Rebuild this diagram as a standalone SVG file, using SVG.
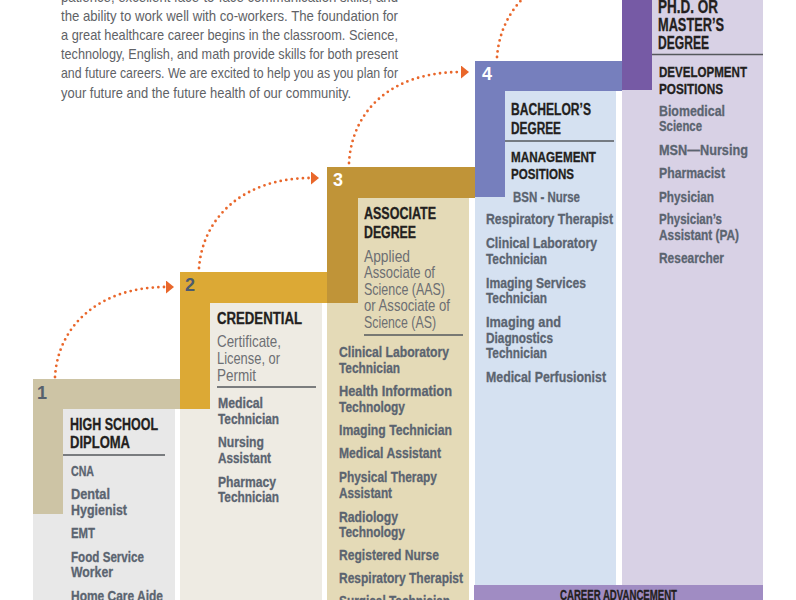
<svg xmlns="http://www.w3.org/2000/svg" width="796" height="600" viewBox="0 0 796 600">
<defs>
<style>
text{font-family:"Liberation Sans Narrow","Liberation Sans",Arial,sans-serif}
.p{font-size:15px;fill:#606266}
.h{font-size:16px;font-weight:bold;fill:#231f20;stroke:#231f20;stroke-width:0.3}
.hb{font-size:18px;font-weight:bold;fill:#231f20;stroke:#231f20;stroke-width:0.3}
.m{font-size:15px;font-weight:bold;fill:#231f20;stroke:#231f20;stroke-width:0.3}
.s{font-size:17px;fill:#6d6f73}
.i{font-size:15px;font-weight:bold;fill:#5b6470;stroke:#5b6470;stroke-width:0.3}
.n{font-family:"Liberation Sans",Arial,sans-serif;font-size:18px;font-weight:bold}
.rule{stroke:#55585c;stroke-width:1.5}
.arr{fill:none;stroke:#e9672b;stroke-width:2.8;stroke-linecap:round;stroke-dasharray:0 5.6}
.ca{font-size:14px;font-weight:bold;fill:#231f20;stroke:#231f20;stroke-width:0.3}
</style>
<marker id="ah" markerWidth="9" markerHeight="13" refX="0" refY="6.5" orient="auto" markerUnits="userSpaceOnUse">
<path d="M0,0 L8,6.5 L0,13 z" fill="#e9672b"/>
</marker>
</defs>
<rect width="796" height="600" fill="#ffffff"/>

<g id="intro" class="p">
<text x="61" y="1.6" textLength="337" lengthAdjust="spacingAndGlyphs">patience, excellent face-to-face communication skills, and</text>
<text x="61" y="20.8" textLength="337" lengthAdjust="spacingAndGlyphs">the ability to work well with co-workers. The foundation for</text>
<text x="61" y="40" textLength="337" lengthAdjust="spacingAndGlyphs">a great healthcare career begins in the classroom. Science,</text>
<text x="61" y="59.2" textLength="337" lengthAdjust="spacingAndGlyphs">technology, English, and math provide skills for both present</text>
<text x="61" y="78.4" textLength="337" lengthAdjust="spacingAndGlyphs">and future careers. We are excited to help you as you plan for</text>
<text x="61" y="97.6" textLength="290" lengthAdjust="spacingAndGlyphs">your future and the future health of our community.</text>
</g>

<g id="step1">
<rect x="33" y="379" width="142" height="221" fill="#e8e8e8"/>
<path d="M33,379 H180 V409 H63 V514 H33 Z" fill="#cdc4a5"/>
<text class="n" x="37" y="399" fill="#56606c">1</text>
<text class="h" x="70" y="430" textLength="88" lengthAdjust="spacingAndGlyphs">HIGH SCHOOL</text>
<text class="h" x="70" y="448" textLength="60" lengthAdjust="spacingAndGlyphs">DIPLOMA</text>
<line class="rule" x1="63" y1="455" x2="165" y2="455"/>
<text class="i" x="71" y="476" textLength="23" lengthAdjust="spacingAndGlyphs">CNA</text>
<text class="i" x="71" y="499" textLength="39" lengthAdjust="spacingAndGlyphs">Dental</text>
<text class="i" x="71" y="515" textLength="56" lengthAdjust="spacingAndGlyphs">Hygienist</text>
<text class="i" x="71" y="538.3" textLength="24" lengthAdjust="spacingAndGlyphs">EMT</text>
<text class="i" x="71" y="561.7" textLength="73" lengthAdjust="spacingAndGlyphs">Food Service</text>
<text class="i" x="71" y="577.3" textLength="42" lengthAdjust="spacingAndGlyphs">Worker</text>
<text class="i" x="71" y="600.5" textLength="92" lengthAdjust="spacingAndGlyphs">Home Care Aide</text>
</g>

<g id="step2">
<rect x="180" y="272" width="142" height="328" fill="#eeebe3"/>
<path d="M180,272 H327 V303 H210 V409 H180 Z" fill="#dca935"/>
<text class="n" x="185" y="291" fill="#4d5a6e">2</text>
<text class="h" x="217" y="324" textLength="85" lengthAdjust="spacingAndGlyphs">CREDENTIAL</text>
<text class="s" x="217" y="347.3" textLength="64" lengthAdjust="spacingAndGlyphs">Certificate,</text>
<text class="s" x="217" y="364" textLength="63" lengthAdjust="spacingAndGlyphs">License, or</text>
<text class="s" x="217" y="380.7" textLength="39" lengthAdjust="spacingAndGlyphs">Permit</text>
<line class="rule" x1="217" y1="387" x2="316" y2="387"/>
<text class="i" x="218" y="408.3" textLength="45" lengthAdjust="spacingAndGlyphs">Medical</text>
<text class="i" x="218" y="424" textLength="61" lengthAdjust="spacingAndGlyphs">Technician</text>
<text class="i" x="218" y="447.3" textLength="46" lengthAdjust="spacingAndGlyphs">Nursing</text>
<text class="i" x="218" y="462.7" textLength="53" lengthAdjust="spacingAndGlyphs">Assistant</text>
<text class="i" x="218" y="486.7" textLength="58" lengthAdjust="spacingAndGlyphs">Pharmacy</text>
<text class="i" x="218" y="501.7" textLength="61" lengthAdjust="spacingAndGlyphs">Technician</text>
</g>

<g id="step3">
<rect x="327" y="167" width="142" height="433" fill="#e4dab7"/>
<path d="M327,167 H475 V198 H358 V303 H327 Z" fill="#c09438"/>
<text class="n" x="333" y="186" fill="#ffffff">3</text>
<text class="h" x="364" y="219.3" textLength="72" lengthAdjust="spacingAndGlyphs">ASSOCIATE</text>
<text class="h" x="364" y="238.3" textLength="52" lengthAdjust="spacingAndGlyphs">DEGREE</text>
<text class="s" x="364" y="261.5" textLength="46" lengthAdjust="spacingAndGlyphs">Applied</text>
<text class="s" x="364" y="278" textLength="71" lengthAdjust="spacingAndGlyphs">Associate of</text>
<text class="s" x="364" y="294.5" textLength="81" lengthAdjust="spacingAndGlyphs">Science (AAS)</text>
<text class="s" x="364" y="311" textLength="86" lengthAdjust="spacingAndGlyphs">or Associate of</text>
<text class="s" x="364" y="327.5" textLength="72" lengthAdjust="spacingAndGlyphs">Science (AS)</text>
<line class="rule" x1="364" y1="335" x2="463" y2="335"/>
<text class="i" x="339" y="357.3" textLength="110" lengthAdjust="spacingAndGlyphs">Clinical Laboratory</text>
<text class="i" x="339" y="372.7" textLength="61" lengthAdjust="spacingAndGlyphs">Technician</text>
<text class="i" x="339" y="396" textLength="113" lengthAdjust="spacingAndGlyphs">Health Information</text>
<text class="i" x="339" y="411.7" textLength="66" lengthAdjust="spacingAndGlyphs">Technology</text>
<text class="i" x="339" y="435" textLength="113" lengthAdjust="spacingAndGlyphs">Imaging Technician</text>
<text class="i" x="339" y="458.3" textLength="102" lengthAdjust="spacingAndGlyphs">Medical Assistant</text>
<text class="i" x="339" y="482" textLength="98" lengthAdjust="spacingAndGlyphs">Physical Therapy</text>
<text class="i" x="339" y="497.7" textLength="53" lengthAdjust="spacingAndGlyphs">Assistant</text>
<text class="i" x="339" y="521.7" textLength="59" lengthAdjust="spacingAndGlyphs">Radiology</text>
<text class="i" x="339" y="536.7" textLength="66" lengthAdjust="spacingAndGlyphs">Technology</text>
<text class="i" x="339" y="560" textLength="100" lengthAdjust="spacingAndGlyphs">Registered Nurse</text>
<text class="i" x="339" y="583.3" textLength="124" lengthAdjust="spacingAndGlyphs">Respiratory Therapist</text>
<text class="i" x="339" y="606" textLength="111" lengthAdjust="spacingAndGlyphs">Surgical Technician</text>
</g>

<g id="step4">
<rect x="475" y="61" width="141" height="524" fill="#d5e1f1"/>
<path d="M475,61 H622 V91 H505 V197 H475 Z" fill="#767fbd"/>
<text class="n" x="482" y="80" fill="#ffffff">4</text>
<text class="h" x="511" y="115" textLength="80" lengthAdjust="spacingAndGlyphs">BACHELOR’S</text>
<text class="h" x="511" y="134" textLength="50" lengthAdjust="spacingAndGlyphs">DEGREE</text>
<line class="rule" x1="505" y1="141" x2="614" y2="141"/>
<text class="m" x="511" y="162.3" textLength="85" lengthAdjust="spacingAndGlyphs">MANAGEMENT</text>
<text class="m" x="511" y="179.3" textLength="63" lengthAdjust="spacingAndGlyphs">POSITIONS</text>
<text class="i" x="513" y="201.7" textLength="67" lengthAdjust="spacingAndGlyphs">BSN - Nurse</text>
<text class="i" x="486" y="224.3" textLength="127" lengthAdjust="spacingAndGlyphs">Respiratory Therapist</text>
<text class="i" x="486" y="248.3" textLength="111" lengthAdjust="spacingAndGlyphs">Clinical Laboratory</text>
<text class="i" x="486" y="264" textLength="61" lengthAdjust="spacingAndGlyphs">Technician</text>
<text class="i" x="486" y="287.7" textLength="100" lengthAdjust="spacingAndGlyphs">Imaging Services</text>
<text class="i" x="486" y="303.3" textLength="61" lengthAdjust="spacingAndGlyphs">Technician</text>
<text class="i" x="486" y="326.7" textLength="75" lengthAdjust="spacingAndGlyphs">Imaging and</text>
<text class="i" x="486" y="342.7" textLength="67" lengthAdjust="spacingAndGlyphs">Diagnostics</text>
<text class="i" x="486" y="358.3" textLength="61" lengthAdjust="spacingAndGlyphs">Technician</text>
<text class="i" x="486" y="381.7" textLength="120" lengthAdjust="spacingAndGlyphs">Medical Perfusionist</text>
</g>

<g id="step5">
<rect x="622" y="-46" width="141" height="631" fill="#d8d1e5"/>
<path d="M622,-46 H769 V-16 H652 V90 H622 Z" fill="#765aa5"/>
<text class="hb" x="658" y="12.5" textLength="60" lengthAdjust="spacingAndGlyphs">PH.D. OR</text>
<text class="hb" x="658" y="30.7" textLength="66" lengthAdjust="spacingAndGlyphs">MASTER’S</text>
<text class="hb" x="658" y="48.8" textLength="51" lengthAdjust="spacingAndGlyphs">DEGREE</text>
<line class="rule" x1="652" y1="54.5" x2="763" y2="54.5"/>
<text class="m" x="659" y="77.3" textLength="88" lengthAdjust="spacingAndGlyphs">DEVELOPMENT</text>
<text class="m" x="659" y="94" textLength="64" lengthAdjust="spacingAndGlyphs">POSITIONS</text>
<text class="i" x="659" y="115.7" textLength="66" lengthAdjust="spacingAndGlyphs">Biomedical</text>
<text class="i" x="659" y="131" textLength="43" lengthAdjust="spacingAndGlyphs">Science</text>
<text class="i" x="659" y="155" textLength="89" lengthAdjust="spacingAndGlyphs">MSN—Nursing</text>
<text class="i" x="659" y="177.7" textLength="66" lengthAdjust="spacingAndGlyphs">Pharmacist</text>
<text class="i" x="659" y="201.7" textLength="55" lengthAdjust="spacingAndGlyphs">Physician</text>
<text class="i" x="659" y="224" textLength="63" lengthAdjust="spacingAndGlyphs">Physician’s</text>
<text class="i" x="659" y="240" textLength="80" lengthAdjust="spacingAndGlyphs">Assistant (PA)</text>
<text class="i" x="659" y="263.3" textLength="65" lengthAdjust="spacingAndGlyphs">Researcher</text>
</g>

<g id="career">
<rect x="474" y="585" width="289" height="15" fill="#a08cc3"/>
<text class="ca" x="560" y="600" textLength="117" lengthAdjust="spacingAndGlyphs">CAREER ADVANCEMENT</text>
</g>

<g id="connectors">
<path class="arr" d="M55,377 C58,325 100,287 166,287" marker-end="url(#ah)"/>
<path class="arr" d="M199,268 C203,216 245,178 311,178" marker-end="url(#ah)"/>
<path class="arr" d="M349,163 C352,110 392,72 461,72" marker-end="url(#ah)"/>
<path class="arr" d="M497,57 C501,5 542,-33 610,-33" marker-end="url(#ah)"/>
</g>
</svg>
